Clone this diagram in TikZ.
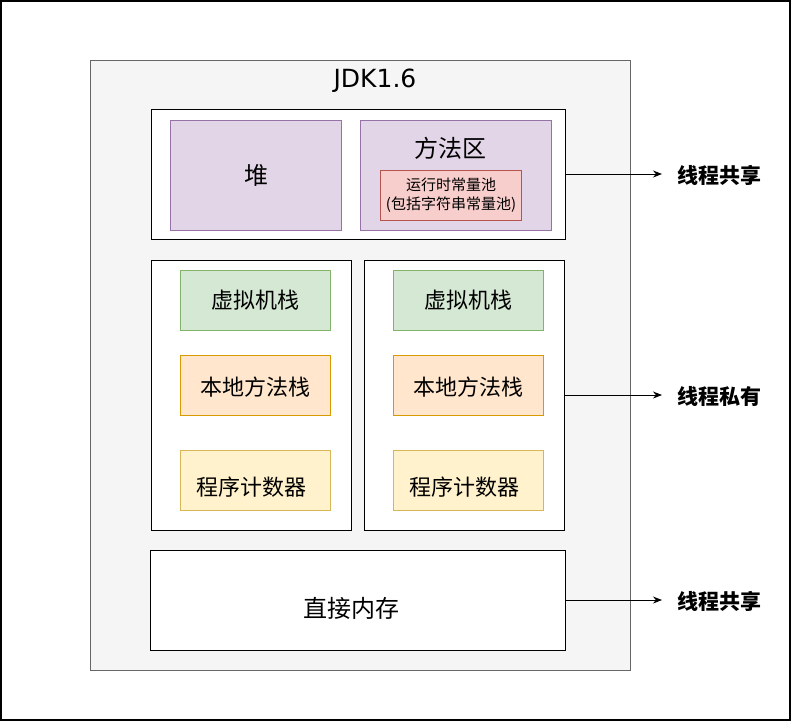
\documentclass[tikz,border=0pt]{standalone}
\usepackage{fontspec}
\setmainfont{Noto Sans CJK SC}
\newfontfamily\latinfont{DejaVu Sans}
\usetikzlibrary{arrows.meta}
\definecolor{jdkfill}{HTML}{F5F5F5}
\definecolor{jdkdraw}{HTML}{666666}
\definecolor{purfill}{HTML}{E1D5E7}
\definecolor{purdraw}{HTML}{9673A6}
\definecolor{redfill}{HTML}{F8CECC}
\definecolor{reddraw}{HTML}{B85450}
\definecolor{grnfill}{HTML}{D5E8D4}
\definecolor{grndraw}{HTML}{82B366}
\definecolor{orgfill}{HTML}{FFE6CC}
\definecolor{orgdraw}{HTML}{D79B00}
\definecolor{ylwfill}{HTML}{FFF2CC}
\definecolor{ylwdraw}{HTML}{D6B656}
\tikzset{
  box/.style={draw, line width=1pt, inner sep=0pt, anchor=north west, font=\fontsize{22}{26}\selectfont},
  white box/.style={box, draw=black, fill=white},
  pur box/.style={box, draw=purdraw, fill=purfill},
  grn box/.style={box, draw=grndraw, fill=grnfill, minimum width=150pt, minimum height=60pt},
  org box/.style={box, draw=orgdraw, fill=orgfill, minimum width=150pt, minimum height=60pt},
  ylw box/.style={box, draw=ylwdraw, fill=ylwfill, minimum width=150pt, minimum height=60pt},
  txt/.style={inner sep=0pt, font=\fontsize{22}{26}\selectfont},
  side label/.style={anchor=west, font=\fontsize{21}{25}\selectfont\bfseries, inner sep=0pt},
  conn/.style={draw=black, line width=1pt, -{Stealth[length=9pt,width=7pt]}}
}
\begin{document}
\begin{tikzpicture}[x=1pt,y=-1pt]
\useasboundingbox (0,0) rectangle (791,721);
\draw[line width=1.5pt] (1,1) rectangle (790,720);
% JDK container
\node[box, draw=jdkdraw, fill=jdkfill, minimum width=540pt, minimum height=610pt] (jdk) at (90,60) {};
\node[font=\latinfont\fontsize{25}{30}\selectfont, inner sep=0pt] (jdkt) at (375,81) {JDK1.6};
% shared area
\node[white box, minimum width=414pt, minimum height=130pt] (shared) at (151,109) {};
\node[pur box, minimum width=171pt, minimum height=110pt, font=\fontsize{24}{28}\selectfont] (heap) at (170,120) {堆};
\node[pur box, minimum width=191pt, minimum height=110pt] (method) at (360,120) {};
\node[txt, font=\fontsize{24}{28}\selectfont] (methodt) at (450,148) {方法区};
\node[box, draw=reddraw, fill=redfill, minimum width=141pt, minimum height=50pt, align=center, font=\fontsize{15}{19}\selectfont] (pool) at (380,170) {运行时常量池\\(包括字符串常量池)};
% private areas
\node[white box, minimum width=200pt, minimum height=270pt] (privL) at (151,260) {};
\node[white box, minimum width=200pt, minimum height=270pt] (privR) at (364,260) {};
\node[grn box] (vmL) at (180,270) {虚拟机栈};
\node[org box] (nmL) at (180,355) {};
\node[txt] (nmLt) at (255,387) {本地方法栈};
\node[ylw box] (pcL) at (180,450) {};
\node[txt] (pcLt) at (251,487) {程序计数器};
\node[grn box] (vmR) at (393,270) {虚拟机栈};
\node[org box] (nmR) at (393,355) {};
\node[txt] (nmRt) at (468,387) {本地方法栈};
\node[ylw box] (pcR) at (393,450) {};
\node[txt] (pcRt) at (464,487) {程序计数器};
% direct memory
\node[white box, minimum width=415pt, minimum height=100pt] (direct) at (150,550) {};
\node[txt, font=\fontsize{24}{28}\selectfont] (directt) at (351,608) {直接内存};
% labels
\node[side label] (l1) at (677,175) {线程共享};
\node[side label] (l2) at (677,396) {线程私有};
\node[side label] (l3) at (677,601) {线程共享};
\coordinate (a1) at (662,174);
\coordinate (a2) at (662,395);
\coordinate (a3) at (662,600);
\draw[conn] (shared.east |- a1) -- (a1);
\draw[conn] (privR.east |- a2) -- (a2);
\draw[conn] (direct.east |- a3) -- (a3);
\end{tikzpicture}
\end{document}
